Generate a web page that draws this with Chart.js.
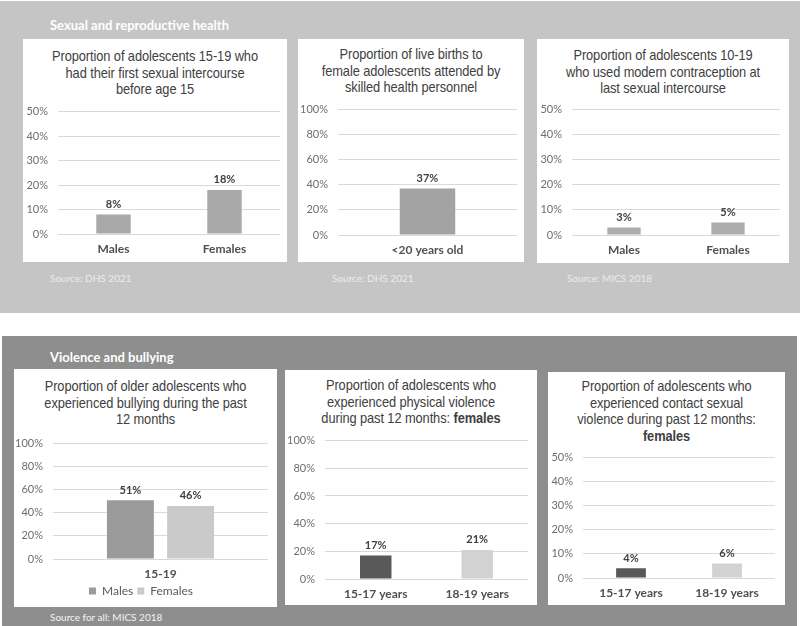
<!DOCTYPE html>
<html>
<head>
<meta charset="utf-8">
<script src="https://cdn.jsdelivr.net/npm/chart.js@4.4.1/dist/chart.umd.min.js"></script>
<style>
  html, body { margin: 0; padding: 0; background: #fff; }
  body { width: 800px; height: 626px; position: relative; overflow: hidden; font-family: Lato, sans-serif; }
  .band { position: absolute; }
  .band.top { left: 0; top: 1px; width: 800px; height: 312px; background: #c5c5c5; }
  .band.bottom { left: 2px; top: 336px; width: 795px; height: 290px; background: #8e8e8e; }
  .head { position: absolute; left: 50px; color: #fff; font-weight: bold; font-size: 13px; line-height: 16px; }
  .src { position: absolute; left: 50px; font-size: 10px; line-height: 14px; }
  .card { position: absolute; background: #fff; }
  .ttl { position: absolute; text-align: center; white-space: nowrap; color: #404040;
         font-family: "Liberation Sans", Arial, sans-serif;
         font-size: 15px; line-height: 16.5px; letter-spacing: -0.1px;
         transform: scaleX(0.855); transform-origin: center top; }
  canvas { position: absolute; }
</style>
</head>
<body>
<div class="band top"></div>
<div class="band bottom"></div>

<div class="head" style="top:17px">Sexual and reproductive health</div>
<div class="head" style="top:349px">Violence and bullying</div>

<div class="card" style="left:23px;top:39px;width:264px;height:223px"></div>
<div class="card" style="left:298px;top:39px;width:226px;height:223px"></div>
<div class="card" style="left:537px;top:39px;width:252px;height:224px"></div>
<div class="card" style="left:14px;top:369px;width:263px;height:238px"></div>
<div class="card" style="left:285px;top:370px;width:252px;height:235px"></div>
<div class="card" style="left:548px;top:372px;width:237px;height:233px"></div>

<div class="ttl" style="left:23px;top:48px;width:264px">Proportion of adolescents 15-19 who<br>had their first sexual intercourse<br>before age 15</div>
<div class="ttl" style="left:298px;top:46px;width:226px">Proportion of live births to<br>female adolescents attended by<br>skilled health personnel</div>
<div class="ttl" style="left:537px;top:47px;width:252px">Proportion of adolescents 10-19<br>who used modern contraception at<br>last sexual intercourse</div>
<div class="ttl" style="left:14px;top:378px;width:263px">Proportion of older adolescents who<br>experienced bullying during the past<br>12 months</div>
<div class="ttl" style="left:285px;top:377px;width:252px">Proportion of adolescents who<br>experienced physical violence<br>during past 12 months: <b>females</b></div>
<div class="ttl" style="left:548px;top:378px;width:237px">Proportion of adolescents who<br>experienced contact sexual<br>violence during past 12 months:<br><b>females</b></div>

<div class="src" style="top:271px;color:#ececec">Source: DHS 2021</div>
<div class="src" style="top:271px;left:332px;color:#ececec">Source: DHS 2021</div>
<div class="src" style="top:271px;left:567px;color:#ececec">Source: MICS 2018</div>
<div class="src" style="top:610px;color:#f4f4f4">Source for all: MICS 2018</div>

<canvas id="c1" width="264" height="167" style="left:23px;top:95px"></canvas>
<canvas id="c2" width="226" height="169" style="left:298px;top:93px"></canvas>
<canvas id="c3" width="252" height="170" style="left:537px;top:93px"></canvas>
<canvas id="c4" width="263" height="180" style="left:14px;top:427px"></canvas>
<canvas id="c5" width="252" height="181" style="left:285px;top:424px"></canvas>
<canvas id="c6" width="237" height="164" style="left:548px;top:441px"></canvas>

<script>
// ---------- data ----------
const sexCats          = ['Males', 'Females'];
const firstSexBefore15 = [8, 18];

const birthCats      = ['<20 years old'];
const skilledBirths  = [37];

const contraCats     = ['Males', 'Females'];
const modernContra   = [3, 5];

const bullyCats      = ['15-19'];
const bullyMales     = [51];
const bullyFemales   = [46];

const ageCats        = ['15-17 years', '18-19 years'];
const physViolence   = [17, 21];
const sexViolence    = [4, 6];

// ---------- value labels above bars ----------
const valueLabels = {
  id: 'valueLabels',
  afterDatasetsDraw(chart) {
    const ctx = chart.ctx;
    ctx.save();
    ctx.font = 'bold 11px Lato';
    ctx.fillStyle = '#404040';
    ctx.textAlign = 'center';
    ctx.textBaseline = 'middle';
    chart.data.datasets.forEach((ds, i) => {
      chart.getDatasetMeta(i).data.forEach((bar, j) => {
        ctx.fillText(ds.data[j] + '%', bar.x, bar.y - 10);
      });
    });
    ctx.restore();
  }
};

// shared builder; yw = y axis width, xh = x axis height
function barChart(id, labels, datasets, o) {
  return new Chart(document.getElementById(id), {
    type: 'bar',
    data: { labels, datasets },
    plugins: [valueLabels],
    options: {
      responsive: false,
      animation: false,
      layout: { padding: { top: 9, right: o.right, bottom: o.bottom || 0, left: 0 } },
      plugins: {
        legend: o.legend || { display: false },
        tooltip: { enabled: false }
      },
      scales: {
        x: {
          grid: { display: false, drawTicks: false },
          border: { display: false },
          ticks: { color: '#505050', padding: 8, font: { family: 'Lato', size: 12, weight: 'bold' } },
          afterFit: s => { s.height = o.xh; }
        },
        y: {
          min: 0, max: o.max,
          ticks: { stepSize: o.max / 5, padding: 10, color: '#6e6e6e',
                   font: { family: 'Lato', size: 11 }, callback: v => v + '%' },
          grid: { color: '#d9d9d9', drawTicks: false },
          border: { display: false },
          afterFit: s => { s.width = o.yw; }
        }
      }
    }
  });
}

barChart('c1', sexCats, [{ data: firstSexBefore15, backgroundColor: '#a8a8a8', barPercentage: 0.62, categoryPercentage: 0.5 }],
  { max: 50, yw: 35, xh: 28, right: 7 });

barChart('c2', birthCats, [{ data: skilledBirths, backgroundColor: '#a3a3a3', barPercentage: 0.62, categoryPercentage: 0.5 }],
  { max: 100, yw: 40, xh: 27, right: 7 });

barChart('c3', contraCats, [{ data: modernContra, backgroundColor: '#adadad', barPercentage: 0.64, categoryPercentage: 0.5 }],
  { max: 50, yw: 35, xh: 28, right: 9 });

barChart('c4', bullyCats, [
    { label: 'Males',   data: bullyMales,   backgroundColor: '#9b9b9b', barPercentage: 0.78, categoryPercentage: 0.56 },
    { label: 'Females', data: bullyFemales, backgroundColor: '#cacaca', barPercentage: 0.78, categoryPercentage: 0.56 }
  ],
  { max: 100, yw: 39, xh: 22, right: 9, bottom: 0,
    legend: { display: true, position: 'bottom',
      labels: { boxWidth: 7, boxHeight: 7, padding: 4, color: '#5a5a5a', font: { family: 'Lato', size: 12 } } } });

barChart('c5', ageCats, [{ data: physViolence, backgroundColor: ['#595959', '#d2d2d2'], barPercentage: 0.62, categoryPercentage: 0.5 }],
  { max: 100, yw: 40, xh: 26, right: 9 });

barChart('c6', ageCats, [{ data: sexViolence, backgroundColor: ['#595959', '#d2d2d2'], barPercentage: 0.62, categoryPercentage: 0.5 }],
  { max: 50, yw: 35, xh: 27, right: 10 });
</script>
</body>
</html>
